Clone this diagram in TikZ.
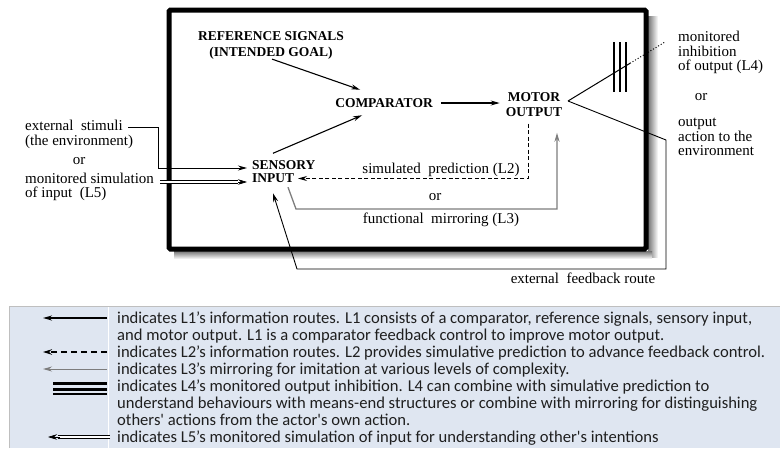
\documentclass[tikz,border=0pt]{standalone}
\usepackage{fontspec}
\setmainfont{Liberation Serif}
\newfontfamily\legfont{Carlito}
\usetikzlibrary{arrows.meta,calc}
\definecolor{legbg}{RGB}{223,230,241}
\definecolor{grayarrow}{RGB}{125,125,125}
\tikzset{
  boxtxt/.style={font=\fontsize{13.5}{15}\selectfont\bfseries, inner sep=0pt, align=center},
  lbl/.style={font=\fontsize{15}{14.5}\selectfont, inner sep=0pt},
  legtxt/.style={font=\legfont\fontsize{16.6}{17}\selectfont, anchor=base west, inner sep=0pt, text=black!88},
  arr/.style={line width=1.1pt, -{Stealth[length=9pt,width=5pt]}},
  thinarr/.style={line width=0.9pt, -{Stealth[length=9pt,width=5pt]}},
  grayarr/.style={line width=1.3pt, draw=grayarrow, -{Stealth[length=9pt,width=5pt]}},
  dasharr/.style={line width=1pt, dash pattern=on 4pt off 2.5pt, -{Stealth[length=9pt,width=5pt]}},
  legdash/.style={line width=1.3pt, dash pattern=on 6pt off 4pt, -{Stealth[length=9pt,width=5.5pt]}},
  dblline/.style={line width=0.8pt, double distance=1.6pt},
}
\begin{document}
\begin{tikzpicture}[x=1pt,y=-1pt]
\useasboundingbox (0,0) rectangle (780,448);
% ---------- main box with shadow ----------
\shade[left color=black!55, right color=white] (648,16) rectangle (658,257);
\shade[top color=black!55, bottom color=white] (174,251) rectangle (652,259);
\draw[line width=5pt, rounded corners=1.5pt] (169,10) rectangle (646,249);

% ---------- nodes ----------
\node[boxtxt, font=\fontsize{13.5}{16}\selectfont\bfseries] (ref) at (271,45) {REFERENCE SIGNALS\\(INTENDED GOAL)};
\node[boxtxt] (comp) at (384,103) {COMPARATOR};
\node[boxtxt] (motor) at (534,104.5) {MOTOR\\OUTPUT};
\node[boxtxt, font=\fontsize{13.5}{13}\selectfont\bfseries, align=left, anchor=west] (sens) at (252,171.5) {SENSORY\\INPUT};

\node[lbl] (sim) at (441,170) {simulated\ \ prediction (L2)};
\node[lbl] (or1) at (435,197) {or};
\node[lbl] (func) at (441,220) {functional\ \ mirroring (L3)};
\node[lbl, align=left, anchor=west] (ext) at (25,134.5) {external\ \ stimuli\\(the environment)};
\node[lbl] (or2) at (79,161) {or};
\node[lbl, align=left, anchor=west] (mon) at (25,187) {monitored simulation\\of input\ \ (L5)};
\node[lbl, align=left, anchor=west] (inh) at (678,52.5) {monitored\\inhibition\\of output (L4)};
\node[lbl] (or3) at (701,97) {or};
\node[lbl, align=left, anchor=west] (act) at (678,137) {output\\action to the\\environment};
\node[lbl] (fb) at (583,278) {external\ \ feedback route};

% ---------- coordinates ----------
\coordinate (mv) at (568,101);
\coordinate (l4a) at (630,63.3);
\coordinate (l4b) at (665,42);
\coordinate (r1) at (666,140);
\coordinate (r2) at (666,269);
\coordinate (r3) at (297,269);
\coordinate (d1) at (528,178.5);
\coordinate (dtip) at (298,178.5);
\coordinate (g1) at (296,209);
\coordinate (g2) at (557,209);
\coordinate (e0) at (128,127);
\coordinate (e1) at (158,127);
\coordinate (e2) at (158,168);
\coordinate (m0) at (160,182);
\coordinate (m1) at (238,182);

% ---------- connectors ----------
\draw[arr] ($(ref.south)+(1,0)$) -- ($(comp.north west)+(25,-8.5)$);
\draw[arr] ($(sens.north west)+(21,-7)$) -- ($(comp.south west)+(27,7.5)$);
\draw[arr] ($(comp.east)+(8,0)$) -- ($(comp.east -| motor.west)+(-6,0)$);
\draw[line width=1pt] (mv) -- (l4a);
\draw[line width=1pt, dotted] (l4a) -- (l4b);
\foreach \bx in {614,620,626} \draw[line width=2pt] (\bx,42) -- (\bx,92);
\draw[thinarr] (mv) -- (r1) -- (r2) -- (r3) -- ($(sens.south west)+(21,10.5)$);
\draw[dasharr] ($(motor.south)+(-6,7)$) -- (d1) -- (dtip);
\draw[grayarr] ($(sens.south west)+(36,4.5)$) -- (g1) -- (g2) -- ($(motor.south)+(23,16)$);
\draw[thinarr] (e0) -- (e1) -- (e2) -- ($(sens.west)+(-5,-3.5)$);
\draw[dblline] (m0) -- (m1);
\draw[line width=0.6pt, -{Stealth[length=9pt,width=5.5pt]}] (m1) -- ($(sens.west)+(-5,10.5)$);

% ---------- legend ----------
\fill[legbg] (9,306) rectangle (780,448);
\draw[black!25] (9,448) -- (9,306) -- (780,306);
\draw[white, line width=1pt] (108,307) -- (108,448);
\coordinate (a1s) at (107,318); \coordinate (a1t) at (43,318);
\coordinate (a2s) at (107,352); \coordinate (a2t) at (43,352);
\coordinate (a3s) at (107,369); \coordinate (a3t) at (43,369);
\coordinate (a5s) at (110,437); \coordinate (a5m) at (58,437); \coordinate (a5t) at (48,437);
\draw[arr, line width=1.4pt] (a1s) -- (a1t);
\draw[legdash] (a2s) -- (a2t);
\draw[grayarr, line width=1pt] (a3s) -- (a3t);
\draw[line width=3pt] (53,383) -- (107,383);
\draw[line width=3pt] (53,389) -- (107,389);
\draw[line width=2pt] (53,393.5) -- (107,393.5);
\draw[dblline] (a5s) -- (a5m);
\draw[line width=0.6pt, -{Stealth[length=9pt,width=5.5pt]}] ($(a5m)+(2,0)$) -- (a5t);

\node[legtxt] (lg1) at (117,323) {indicates L1’s information routes. L1 consists of a comparator, reference signals, sensory input,};
\node[legtxt] (lg2) at (117,340) {and motor output. L1 is a comparator feedback control to improve motor output.};
\node[legtxt] (lg3) at (117,357) {indicates L2’s information routes. L2 provides simulative prediction to advance feedback control.};
\node[legtxt] (lg4) at (117,374) {indicates L3’s mirroring for imitation at various levels of complexity.};
\node[legtxt] (lg5) at (117,391) {indicates L4’s monitored output inhibition. L4 can combine with simulative prediction to};
\node[legtxt] (lg6) at (117,408) {understand behaviours with means-end structures or combine with mirroring for distinguishing};
\node[legtxt] (lg7) at (117,425) {others\textquotesingle\ actions from the actor\textquotesingle s own action.};
\node[legtxt] (lg8) at (117,442) {indicates L5’s monitored simulation of input for understanding other\textquotesingle s intentions};
\end{tikzpicture}
\end{document}
